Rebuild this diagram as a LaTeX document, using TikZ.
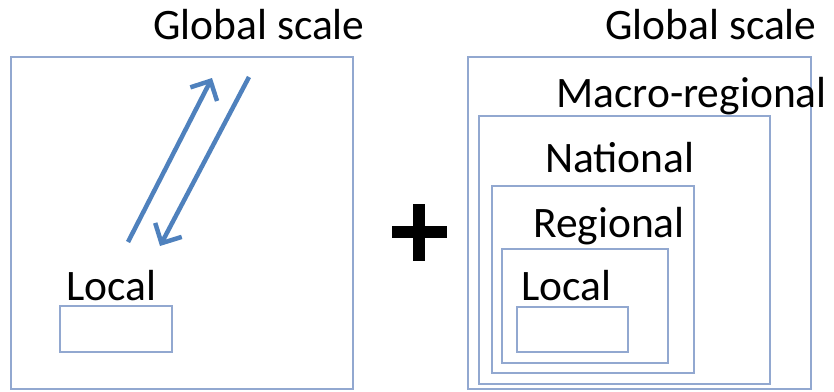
\documentclass[tikz,border=0pt]{standalone}
\usepackage{fontspec}
\setmainfont{Carlito}
\usetikzlibrary{arrows.meta}
\definecolor{boxline}{RGB}{146,168,208}
\definecolor{arrowblue}{RGB}{79,129,189}
\tikzset{
  scalebox/.style={draw=boxline, line width=1.6pt},
  scaletext/.style={anchor=base west, inner sep=0pt, font=\fontsize{43.5}{43.5}\selectfont},
  flow/.style={arrowblue, line width=4.5pt, -{Straight Barb[length=15pt, width=30pt, line width=4.5pt]}}
}
\begin{document}
\begin{tikzpicture}[x=1pt, y=-1pt]
\useasboundingbox (0,0) rectangle (834,391);

% left panel
\draw[scalebox] (11,57) rectangle (353,389);
\draw[scalebox] (60,306) rectangle (172,352);
\node[scaletext] (glob1) at (153,39) {Global scale};
\node[scaletext] (loc1) at (66,300) {Local};

\coordinate (uptail) at (128,242);
\coordinate (uptip) at (212,78);
\coordinate (dntail) at (249,77);
\coordinate (dntip) at (160,246);
\draw[flow] (uptail) -- (uptip);
\draw[flow] (dntail) -- (dntip);

% plus
\draw[line width=12pt] (392,232) -- (447,232);
\draw[line width=12pt] (419,204) -- (419,261);

% right panel
\draw[scalebox] (468,57) rectangle (811,389);
\draw[scalebox] (479,116) rectangle (770,384);
\draw[scalebox] (492,186) rectangle (694,373);
\draw[scalebox] (502,249) rectangle (668,363);
\draw[scalebox] (517,307) rectangle (628,352);

\node[scaletext] (glob2) at (605,39) {Global scale};
\node[scaletext] (macro) at (556,107) {Macro-regional};
\node[scaletext] (nat) at (545,172) {National};
\node[scaletext] (reg) at (533,237) {Regional};
\node[scaletext] (loc2) at (521,300) {Local};

\end{tikzpicture}
\end{document}
